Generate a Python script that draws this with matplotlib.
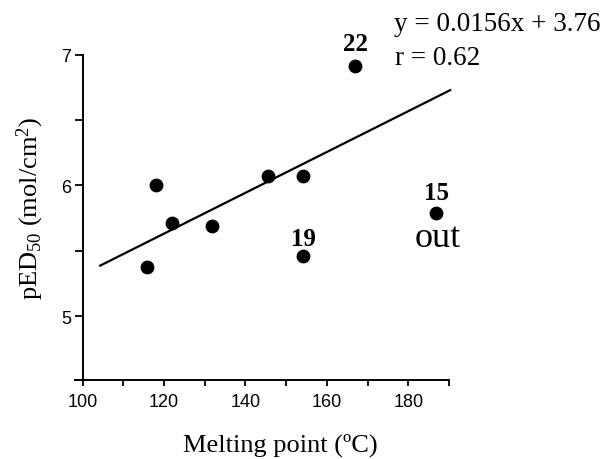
import numpy as np
import matplotlib
matplotlib.use("Agg")
import matplotlib.pyplot as plt
from matplotlib.ticker import FixedLocator, FuncFormatter

plt.rcParams["mathtext.fontset"] = "custom"
plt.rcParams["mathtext.rm"] = "Liberation Serif"
plt.rcParams["mathtext.it"] = "Liberation Serif:italic"
plt.rcParams["mathtext.bf"] = "Liberation Serif:bold"

# ---- data ----
melting_point = [115.9, 118.0, 121.9, 131.8, 145.6, 154.1, 154.2, 167.0, 186.9]
ped50 = [5.38, 6.00, 5.71, 5.69, 6.07, 6.07, 5.46, 6.91, 5.79]
slope = 0.0156
intercept = 3.76
fit_range = [104.3, 190.3]
label_text = ["22", "19", "15"]
label_x = [167.0, 154.2, 186.9]
label_y = [6.91, 5.46, 5.79]
x_ticks = [100, 110, 120, 130, 140, 150, 160, 170, 180, 190]
y_ticks = [5, 6, 7]
y_minor = [5.5, 6.5]

serif = ["Liberation Serif", "DejaVu Serif"]
sans = ["Liberation Sans", "DejaVu Sans"]

fig = plt.figure(figsize=(6.09, 4.60), dpi=100)
W, H = 609, 460
left_px, right_px, top_px, bot_px = 74.6, 448.9, 55.7, 381.3
ax = fig.add_axes([left_px / W, 1 - bot_px / H, (right_px - left_px) / W, (bot_px - top_px) / H])

ax.scatter(melting_point, ped50, s=80, color="black", zorder=3, clip_on=False)
fx = np.array(fit_range)
ax.plot(fx, slope * fx + intercept, color="black", lw=1.6, clip_on=False)

ax.set_xlim(98, 190)
ax.set_ylim(4.51, 7.0)

for s in ["top", "right"]:
    ax.spines[s].set_visible(False)
ax.spines["left"].set_position(("data", 100))
for s in ["left", "bottom"]:
    ax.spines[s].set_linewidth(1.4)

ax.xaxis.set_major_locator(FixedLocator(x_ticks))
ax.xaxis.set_major_formatter(FuncFormatter(lambda v, p: f"{int(v)}" if int(round(v)) % 20 == 0 and v < 190 else ""))
ax.yaxis.set_major_locator(FixedLocator(y_ticks))
ax.yaxis.set_minor_locator(FixedLocator(y_minor))
ax.yaxis.set_major_formatter(FuncFormatter(lambda v, p: f"{int(v)}"))

ax.tick_params(axis="x", direction="out", length=4.3, width=1.3, pad=5)
ax.tick_params(axis="y", which="both", direction="out", length=5.8, width=1.3, pad=2.5)
for lab in ax.get_xticklabels() + ax.get_yticklabels():
    lab.set_family(sans)
    lab.set_fontsize(13)

ax.set_xlabel("Melting point (ºC)", family=serif, fontsize=19)
ax.xaxis.set_label_coords((280 - left_px) / (right_px - left_px), (bot_px - 452) / (bot_px - top_px))
ax.xaxis.label.set_verticalalignment("baseline")

ax.set_ylabel(r"pED$_{\mathrm{50}}$ (mol/cm$^{\mathrm{2}}$)", family=serif, fontsize=19)
ax.yaxis.set_label_coords((30 - left_px) / (right_px - left_px), (bot_px - 208) / (bot_px - top_px))
ax.yaxis.label.set_verticalalignment("center")

offsets_px = [22.8, 18.0, 20.0]
for t, x, y, off in zip(label_text, label_x, label_y, offsets_px):
    ax.annotate(t, xy=(x, y), xytext=(0, off * 72 / 100), textcoords="offset points",
                ha="center", va="center", family=serif, fontweight="bold", fontsize=18,
                annotation_clip=False)
ax.annotate("out", xy=(label_x[2], label_y[2]), xytext=(1, -33.4 * 72 / 100), textcoords="offset points",
            ha="center", va="baseline", family=serif, fontsize=26, annotation_clip=False)

fig.text(394 / W, 1 - 30.7 / H, "y = 0.0156x + 3.76", family=serif, fontsize=19.5, ha="left", va="baseline")
fig.text(395 / W, 1 - 65 / H, "r = 0.62", family=serif, fontsize=19.5, ha="left", va="baseline")

fig.savefig("out.png", dpi=100)
